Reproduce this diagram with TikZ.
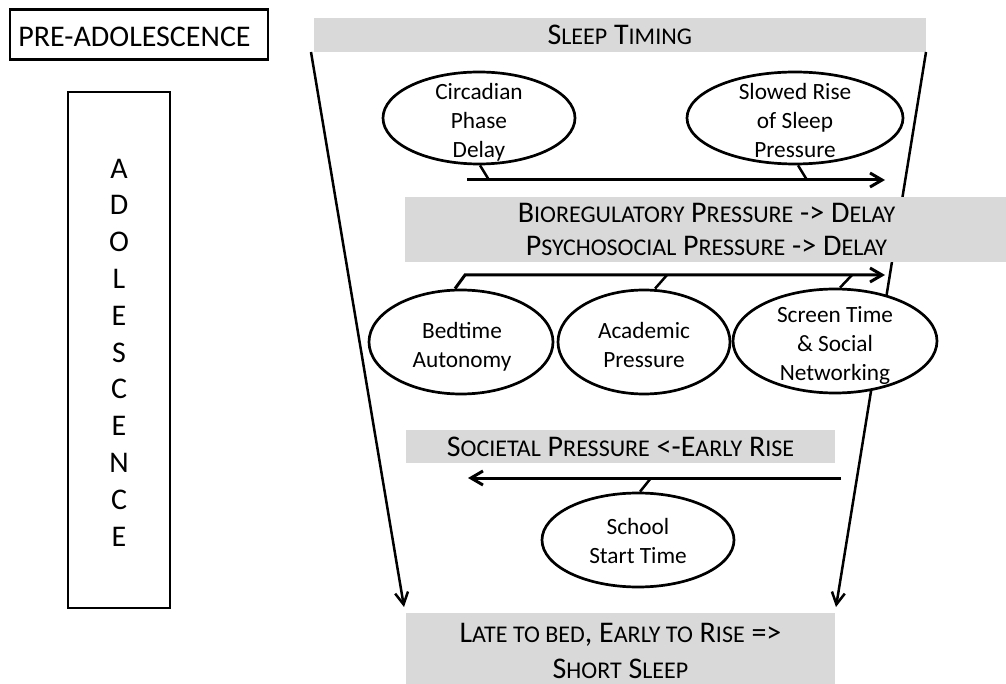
\documentclass[tikz,border=0pt]{standalone}
\usepackage{fontspec}
\setmainfont{Carlito}
\usetikzlibrary{arrows.meta,shapes.geometric}
\definecolor{barc}{RGB}{217,217,217}
\newcommand\sm[1]{{\fontsize{24}{24}\selectfont #1}}
\begin{document}
\begin{tikzpicture}[x=1pt,y=-1pt,
  ell/.style={draw, ellipse, line width=2.7pt, fill=white, inner sep=0pt},
  etext/.style={align=center, font=\fontsize{23.3}{29}\selectfont, inner sep=0pt},
  bar/.style={fill=barc, inner sep=0pt, align=center, font=\fontsize{30}{33}\selectfont},
  frame/.style={draw, line width=2.7pt, inner sep=0pt},
  arr/.style={line width=3pt, -{Straight Barb[length=12pt,width=14pt]}},
  tick/.style={line width=2.5pt},
  funnel/.style={line width=2.5pt, -{Straight Barb[length=12pt,width=13pt]}}]
\clip (0,0) rectangle (1006,684);
\fill[white] (0,0) rectangle (1006,684);

% left column
\node[frame, minimum width=258pt, minimum height=50pt] (pre) at (139,34.3) {};
\node[font=\fontsize{30}{30}\selectfont, inner sep=0pt] (pretext) at (134.5,37) {PRE-ADOLESCENCE};
\node[frame, minimum width=102pt, minimum height=516pt] (adobox) at (119,350) {};
\node[font=\fontsize{30}{36.8}\selectfont, align=center, inner sep=0pt] (adotext) at (119,352.4)
  {A\\D\\O\\L\\E\\S\\C\\E\\N\\C\\E};

% top bar
\node[bar, minimum width=612.5pt, minimum height=34pt] (timing) at (619.75,35) {S\sm{LEEP} T\sm{IMING}};

% funnel
\coordinate (fl1) at (311,52);
\coordinate (fl2) at (404,607);
\coordinate (fr1) at (926,52);
\coordinate (fr2) at (836,607);
\draw[funnel] (fl1) -- (fl2);
\draw[funnel] (fr1) -- (fr2);

% bioregulatory ellipses
\node[ell, minimum width=192pt, minimum height=92pt] (circ) at (479,118) {};
\node[etext] (circt) at (479,122) {Circadian\\Phase\\Delay};
\node[ell, minimum width=216pt, minimum height=92pt] (slow) at (795,118) {};
\node[etext] (slowt) at (795,120) {Slowed Rise\\of Sleep\\Pressure};

\coordinate (a1s) at (467,180);
\coordinate (a1e) at (885,180);
\coordinate (t1) at (489,180);
\coordinate (t2) at (807,180);
\draw[arr] (a1s) -- (a1e);
\draw[tick] ([xshift=1pt]circ.south) -- (t1);
\draw[tick] ([xshift=3pt]slow.south) -- (t2);

% middle bar
\node[bar, minimum width=603pt, minimum height=65pt] (bio) at (706.5,229.5)
  {B\sm{IOREGULATORY} P\sm{RESSURE} -> D\sm{ELAY}\\P\sm{SYCHOSOCIAL} P\sm{RESSURE} -> D\sm{ELAY}};

% psychosocial ellipses
\node[ell, minimum width=184pt, minimum height=104pt] (bed) at (461,342) {};
\node[etext] (bedt) at (462,347) {Bedtime\\Autonomy};
\node[ell, minimum width=172pt, minimum height=104pt] (acad) at (644,342) {};
\node[etext] (acadt) at (644,344.5) {Academic\\Pressure};
\node[ell, minimum width=204pt, minimum height=104pt] (scr) at (835,341) {};
\node[etext] (scrt) at (835,345) {Screen Time\\\& Social\\Networking};

\coordinate (a2s) at (465,275);
\coordinate (a2e) at (885,275);
\coordinate (t3) at (667,275);
\coordinate (t4) at (852,275);
\draw[arr] ([xshift=-6pt]bed.north) -- (a2s) -- (a2e);
\draw[tick] ([xshift=11pt]acad.north) -- (t3);
\draw[tick] ([xshift=5pt]scr.north) -- (t4);

% societal
\node[bar, minimum width=429pt, minimum height=33pt] (soc) at (620.5,446.5)
  {S\sm{OCIETAL} P\sm{RESSURE} <-E\sm{ARLY} R\sm{ISE}};
\coordinate (a3s) at (841,478);
\coordinate (a3e) at (468,478);
\coordinate (t5) at (651,478);
\draw[arr] (a3s) -- (a3e);
\node[ell, minimum width=192pt, minimum height=94pt] (school) at (638,540) {};
\node[etext] (schoolt) at (638,540.5) {School\\Start Time};
\draw[tick] ([xshift=2pt]school.north) -- (t5);

% bottom bar
\node[bar, minimum width=429pt, minimum height=76pt, font=\fontsize{30}{36}\selectfont] (late) at (620.5,651)
  {L\sm{ATE TO BED}, E\sm{ARLY TO} R\sm{ISE} =>\\S\sm{HORT} S\sm{LEEP}};
\end{tikzpicture}
\end{document}
